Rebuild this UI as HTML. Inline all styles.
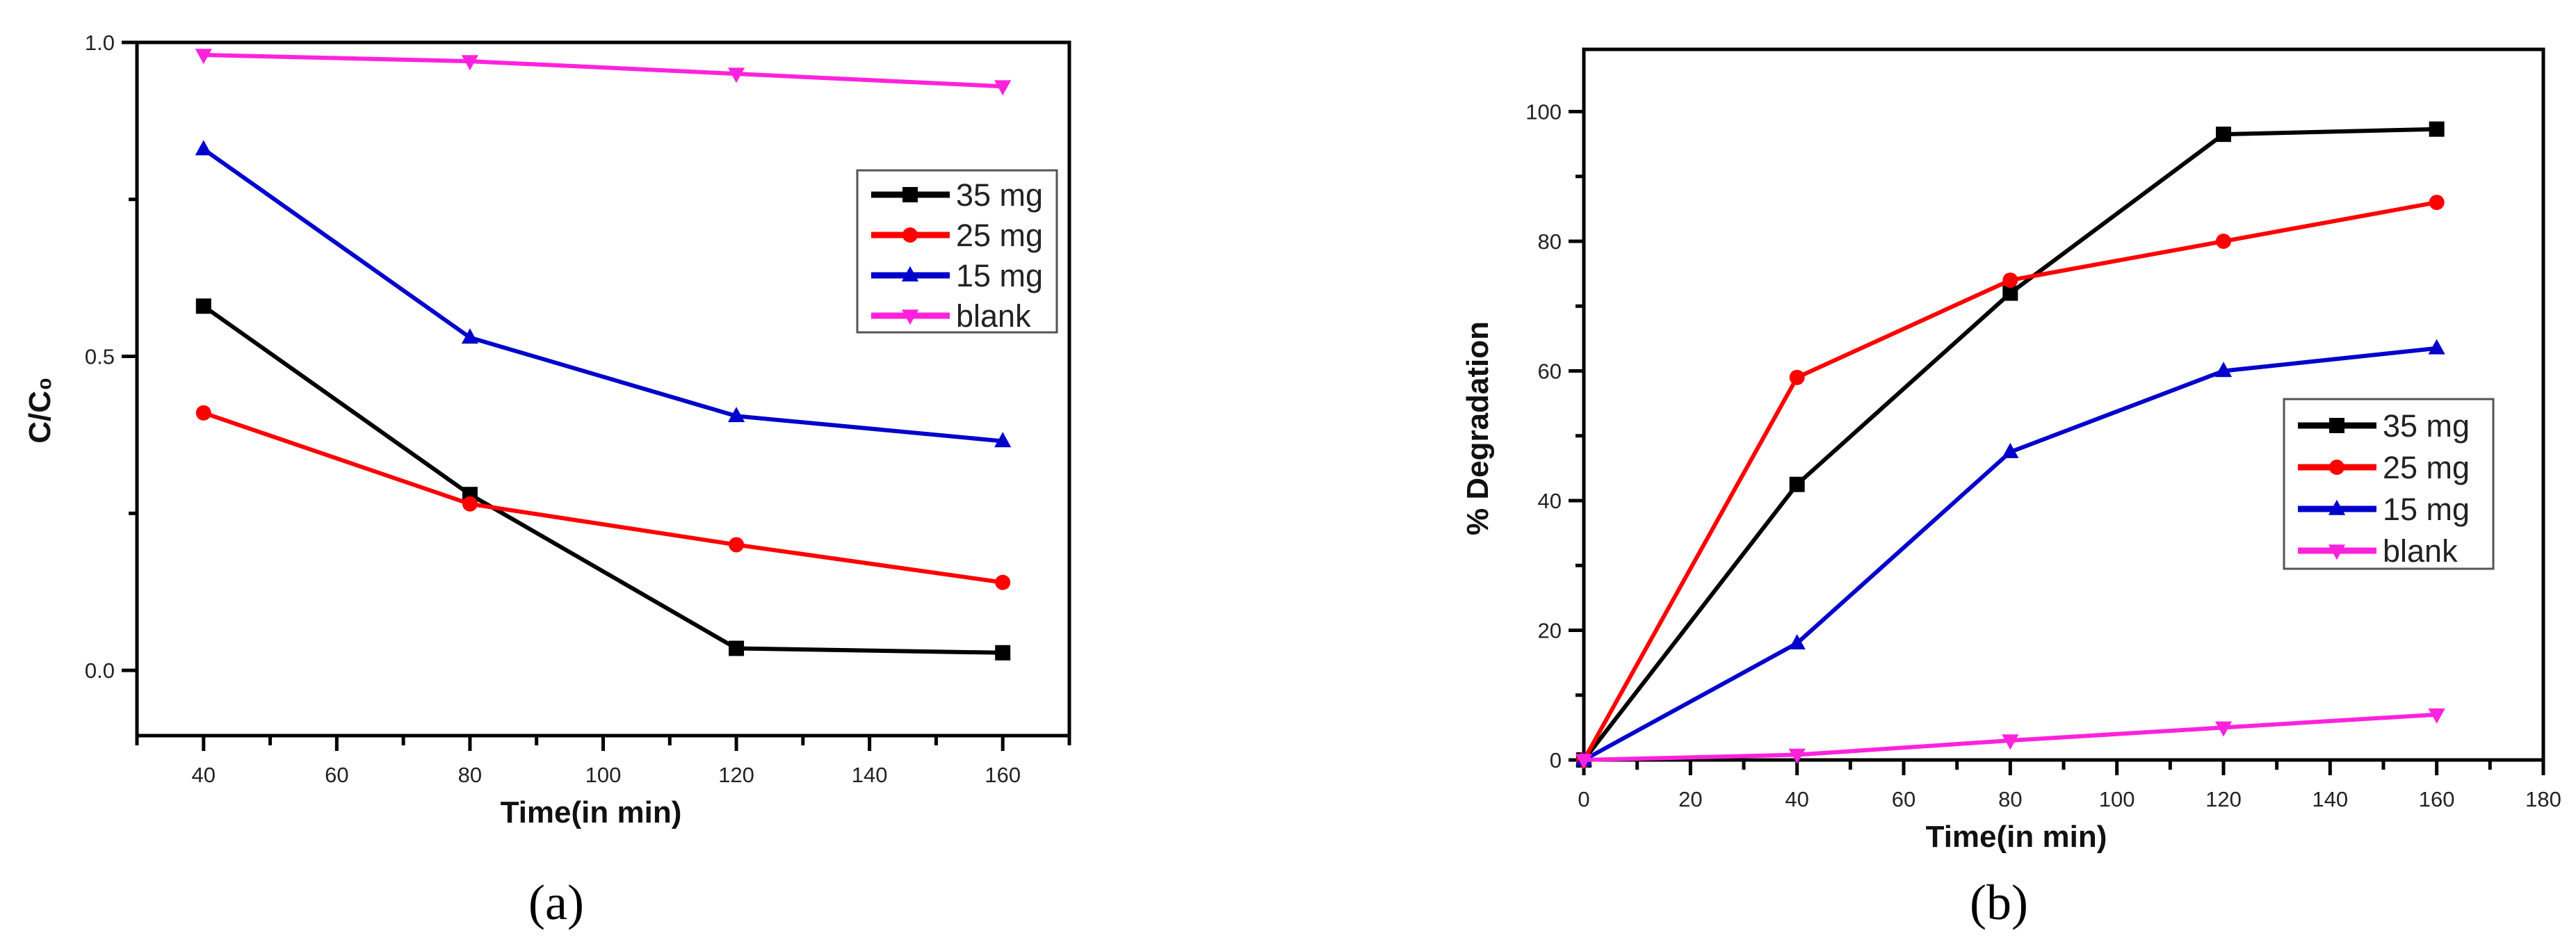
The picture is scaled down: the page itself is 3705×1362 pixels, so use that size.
<!DOCTYPE html>
<html><head><meta charset="utf-8"><style>
html,body{margin:0;padding:0;background:#fff;}
svg{display:block;font-family:"Liberation Sans",Arial,sans-serif;}
</style></head><body>
<svg id="fig" width="3705" height="1362" viewBox="0 0 3705 1362" xmlns="http://www.w3.org/2000/svg">
<rect width="3705" height="1362" fill="#fff"/>
</svg>
<script>
// ---- chart (a) data ----
const aTimes = [40, 80, 120, 160];
const a35 = [0.58, 0.28, 0.035, 0.028];
const a25 = [0.41, 0.265, 0.2, 0.14];
const a15 = [0.83, 0.53, 0.405, 0.365];
const aBlank = [0.98, 0.97, 0.95, 0.93];
const aXTicks = [40, 60, 80, 100, 120, 140, 160];
const aYTicks = [0.0, 0.5, 1.0];
const aYLabels = ["0.0", "0.5", "1.0"];
// ---- chart (b) data ----
const bTimes = [0, 40, 80, 120, 160];
const b35 = [0, 42.5, 72, 96.5, 97.3];
const b25 = [0, 59, 74, 80, 86];
const b15 = [0, 18, 47.5, 60, 63.5];
const bBlank = [0, 0.8, 3, 5, 7];
const bXTicks = [0, 20, 40, 60, 80, 100, 120, 140, 160, 180];
const bYTicks = [0, 20, 40, 60, 80, 100];
const legendLabels = ["35 mg", "25 mg", "15 mg", "blank"];

const NS = "http://www.w3.org/2000/svg";
const svg = document.getElementById('fig');
function mk(tag, attrs, parent, text) {
  const e = document.createElementNS(NS, tag);
  for (const k in attrs) e.setAttribute(k, attrs[k]);
  if (text !== undefined) e.textContent = text;
  (parent || svg).appendChild(e);
  return e;
}
const colors = ["#000000", "#ff0000", "#0000cc", "#ff22dd"];
const shapes = ["square", "circle", "tri", "tridown"];

function marker(g, shape, x, y, c, s) {
  let e;
  if (shape === "square") e = mk('rect', {x: x - s, y: y - s, width: 2 * s, height: 2 * s, fill: c}, g);
  else if (shape === "circle") e = mk('circle', {cx: x, cy: y, r: s, fill: c}, g);
  else if (shape === "tri") e = mk('polygon', {points: `${x},${y - s * 1.2} ${x - s * 1.1},${y + s * 0.8} ${x + s * 1.1},${y + s * 0.8}`, fill: c}, g);
  else e = mk('polygon', {points: `${x},${y + s * 1.2} ${x - s * 1.1},${y - s * 0.8} ${x + s * 1.1},${y - s * 0.8}`, fill: c}, g);
  
  
}

function chart(cfg) {
  const g = mk('g', {});
  
  
  const X = v => cfg.x0 + (v - cfg.xmin) / (cfg.xmax - cfg.xmin) * (cfg.x1 - cfg.x0);
  const Y = v => cfg.y0 - (v - cfg.ymin) / (cfg.ymax - cfg.ymin) * (cfg.y0 - cfg.y1);
  // frame
  const fr = mk('rect', {x: cfg.x0, y: cfg.y1, width: cfg.x1 - cfg.x0, height: cfg.y0 - cfg.y1, fill: 'none', stroke: '#000', 'stroke-width': 5}, g);
  
  
  // x ticks
  for (let v = cfg.xmin; v <= cfg.xmax + 1e-9; v += cfg.xminor) {
    const major = cfg.xTicks.some(t => Math.abs(t - v) < 1e-6);
    const t = mk('line', {x1: X(v), x2: X(v), y1: cfg.y0, y2: cfg.y0 + (major ? 22 : 14), stroke: '#000', 'stroke-width': 5}, g);
    
    
  }
  cfg.xTicks.forEach(v => {
    const t = mk('text', {x: X(v), y: cfg.y0 + 67, 'text-anchor': 'middle', 'font-size': 31, fill: '#222'}, g, String(v));
    
    
  });
  for (let v = cfg.yminorStart; v <= cfg.ymax + 1e-9; v += cfg.yminor) {
    const major = cfg.yTicks.some(t => Math.abs(t - v) < 1e-6);
    const t = mk('line', {x1: cfg.x0, x2: cfg.x0 - (major ? 22 : 12), y1: Y(v), y2: Y(v), stroke: '#000', 'stroke-width': 5}, g);
    
    
  }
  cfg.yTicks.forEach((v, i) => {
    const t = mk('text', {x: cfg.x0 - 32, y: Y(v) + 11, 'text-anchor': 'end', 'font-size': 31, fill: '#222'}, g, cfg.yLabels[i]);
    
    
  });
  // series
  cfg.series.forEach((s, i) => {
    const sg = mk('g', {}, g);
    
    
    const pts = s.map((v, j) => X(cfg.times[j]) + ',' + Y(v)).join(' ');
    const pl = mk('polyline', {points: pts, fill: 'none', stroke: colors[i], 'stroke-width': 6, 'stroke-linejoin': 'round'}, sg);
    
    
    s.forEach((v, j) => marker(sg, shapes[i], X(cfg.times[j]), Y(v), colors[i], 11));
  });
  // legend
  const lg = mk('g', {}, g);
  
  
  const lb = mk('rect', {x: cfg.lx, y: cfg.ly, width: cfg.lw, height: cfg.lh, fill: '#fff', stroke: '#555', 'stroke-width': 3}, lg);
  
  
  legendLabels.forEach((lab, i) => {
    const yy = cfg.ly + cfg.lfirst + i * cfg.lstep;
    const ln = mk('line', {x1: cfg.lx + 20, x2: cfg.lx + 133, y1: yy, y2: yy, stroke: colors[i], 'stroke-width': 9}, lg);
    
    
    marker(lg, shapes[i], cfg.lx + 76, yy, colors[i], 11);
    const t = mk('text', {x: cfg.lx + 142, y: yy + 16, 'font-size': 45, fill: '#222'}, lg, lab);
    
    
  });
  // titles
  const xt = mk('text', {x: cfg.xtx, y: cfg.y0 + 125, 'text-anchor': 'middle', 'font-size': 44, 'font-weight': 'bold', fill: '#111'}, g, 'Time(in min)');
  
  
  const yt = mk('text', {x: 0, y: 0, 'text-anchor': 'middle', 'font-size': 44, 'font-weight': 'bold', fill: '#111', transform: `translate(${cfg.ytx},${cfg.yty}) rotate(-90)`}, g, cfg.ytitle);
  
  
  const cap = mk('text', {x: cfg.capx, y: 1322, 'text-anchor': 'middle', 'font-size': 72, 'font-family': '"Liberation Serif",serif', fill: '#000'}, g, cfg.cap);
  
  
}

chart({name: 'chart-a', x0: 197, x1: 1538, y0: 1058, y1: 61, xmin: 30, xmax: 170, ymin: -0.104, ymax: 1.0,
  xTicks: aXTicks, xminor: 10, yTicks: aYTicks, yLabels: aYLabels, yminorStart: 0.0, yminor: 0.25,
  times: aTimes, series: [a35, a25, a15, aBlank],
  lx: 1233, ly: 245, lw: 287, lh: 233, lfirst: 35, lstep: 58,
  xtx: 850, ytx: 72, yty: 590, ytitle: 'C/C\u2080', capx: 800, cap: '(a)'});

chart({name: 'chart-b', x0: 2278, x1: 3658, y0: 1093, y1: 71, xmin: 0, xmax: 180, ymin: 0, ymax: 109.6,
  xTicks: bXTicks, xminor: 10, yTicks: bYTicks, yLabels: bYTicks.map(String), yminorStart: 0, yminor: 10,
  times: bTimes, series: [b35, b25, b15, bBlank],
  lx: 3285, ly: 574, lw: 301, lh: 244, lfirst: 38, lstep: 60,
  xtx: 2900, ytx: 2140, yty: 616, ytitle: '% Degradation', capx: 2875, cap: '(b)'});
</script>
</body></html>
